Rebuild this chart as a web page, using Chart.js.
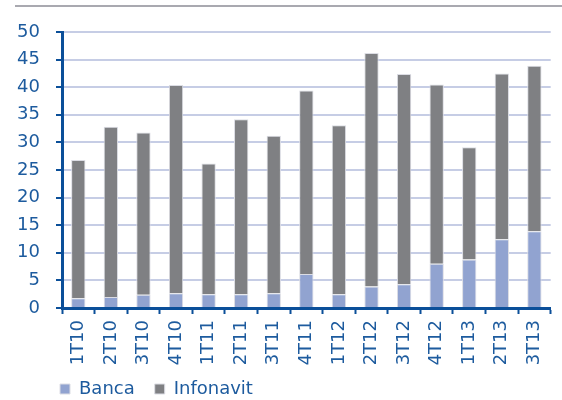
<!DOCTYPE html>
<html>
<head>
<meta charset="utf-8">
<script src="https://cdn.jsdelivr.net/npm/chart.js@4/dist/chart.umd.min.js"></script>
<style>
  html, body { margin: 0; padding: 0; background: #fff; }
  #wrap { position: relative; width: 562px; height: 400px; }
  #topline { position: absolute; left: 15px; right: 0; top: 5px; height: 2px; background: #a9a9b0; }
</style>
</head>
<body>
<div id="wrap">
  <div id="topline"></div>
  <canvas id="chart" width="562" height="400"></canvas>
</div>
<script>
// quarters (T = trimestre)
const quarters = ['1T10', '2T10', '3T10', '4T10', '1T11', '2T11', '3T11', '4T11',
  '1T12', '2T12', '3T12', '4T12', '1T13', '2T13', '3T13'];

// values
const banca = [1.75, 2.0, 2.4, 2.65, 2.5, 2.5, 2.65, 6.15, 2.5, 3.9, 4.3, 8.0, 8.8, 12.45, 13.9];
const infonavit = [25.05, 30.85, 29.4, 37.75, 23.7, 31.7, 28.55, 33.25, 30.6, 42.3, 38.1, 32.5, 20.3, 30.05, 30.0];

const yTicks = { min: 0, max: 50, step: 5 };

const blueText = '#1d5b9e';
const blueAxis = '#0b4f99';
const font = 'DejaVu Sans';

// keep the legend short (the padding is only wanted between items)
// and start it under the y axis
const legendShift = {
  id: 'legendShift',
  beforeLayout(chart) {
    const lg = chart.legend;
    if (lg && !lg._fixed) {
      const fit = lg.fit;
      lg.fit = function() {
        fit.call(this);
        this.height = 30;
      };
      lg._fixed = true;
    }
  },
  afterLayout(chart) {
    chart.legend.left = 40;
    chart.legend.top = 360;
  }
};

new Chart(document.getElementById('chart'), {
  type: 'bar',
  data: {
    labels: quarters,
    datasets: [
      {
        label: 'Banca',
        data: banca,
        backgroundColor: '#91a3d0',
        borderColor: '#dcdde4',
        borderWidth: 1,
        barPercentage: 0.44,
        categoryPercentage: 1
      },
      {
        label: 'Infonavit',
        data: infonavit,
        backgroundColor: '#7f8083',
        borderColor: '#dcdde4',
        borderWidth: 1,
        barPercentage: 0.44,
        categoryPercentage: 1
      }
    ]
  },
  options: {
    responsive: false,
    animation: false,
    layout: { padding: { top: 32, left: 0, right: 0, bottom: 0 } },
    plugins: {
      title: { display: false },
      tooltip: { enabled: false },
      legend: {
        position: 'bottom',
        align: 'start',
        labels: {
          boxWidth: 10,
          boxHeight: 10,
          padding: 20,
          color: blueText,
          font: { family: font, size: 18 }
        }
      }
    },
    scales: {
      x: {
        stacked: true,
        afterFit: function(scale) { scale.height = 62; },
        border: { color: blueAxis, width: 3 },
        grid: {
          drawOnChartArea: false,
          tickColor: blueAxis,
          tickLength: 6,
          tickWidth: 2
        },
        ticks: {
          color: blueText,
          font: { family: font, size: 18 },
          maxRotation: 90,
          minRotation: 90,
          padding: 6
        }
      },
      y: {
        stacked: true,
        min: yTicks.min,
        max: yTicks.max,
        afterFit: function(scale) { scale.width = 62; },
        border: { color: blueAxis, width: 3 },
        grid: {
          color: '#c6cde5',
          lineWidth: 2,
          tickColor: blueAxis,
          tickLength: 6,
          tickWidth: 2
        },
        ticks: {
          stepSize: yTicks.step,
          color: blueText,
          font: { family: font, size: 18 },
          padding: 16
        }
      }
    }
  },
  plugins: [legendShift]
});
</script>
</body>
</html>
